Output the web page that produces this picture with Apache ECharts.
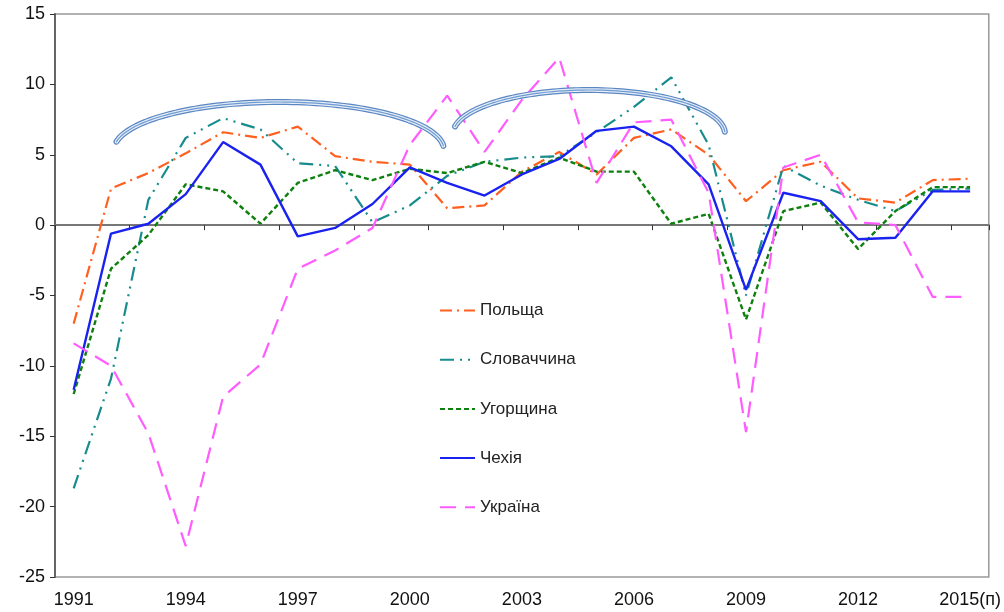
<!DOCTYPE html>
<html>
<head>
<meta charset="utf-8">
<script src="https://cdn.jsdelivr.net/npm/echarts@6/dist/echarts.min.js"></script>
<style>html,body{margin:0;padding:0;background:#fff;}#c{width:1004px;height:612px;}</style>
</head>
<body>
<div id="c"></div>
<script>
const years = ['1991','1992','1993','1994','1995','1996','1997','1998','1999','2000','2001','2002','2003','2004','2005','2006','2007','2008','2009','2010','2011','2012','2013','2014','2015(п)'];
const poland   = [-7.0, 2.6, 3.7, 5.1, 6.6, 6.2, 7.0, 4.9, 4.5, 4.3, 1.2, 1.4, 3.8, 5.2, 3.6, 6.2, 6.8, 5.0, 1.7, 3.9, 4.5, 1.9, 1.6, 3.2, 3.3];
const slovakia = [-18.7, -10.9, 1.8, 6.2, 7.6, 6.8, 4.4, 4.2, 0.2, 1.4, 3.5, 4.5, 4.8, 4.9, 6.6, 8.4, 10.5, 5.7, -5.0, 4.2, 2.8, 1.8, 1.0, 2.5, 2.6];
const hungary  = [-12.0, -3.1, -0.7, 2.9, 2.4, 0.1, 3.0, 3.9, 3.2, 4.0, 3.7, 4.5, 3.7, 4.8, 3.8, 3.8, 0.1, 0.8, -6.7, 1.0, 1.6, -1.7, 1.0, 2.7, 2.7];
const czech    = [-11.7, -0.6, 0.1, 2.2, 5.9, 4.3, -0.8, -0.2, 1.5, 4.1, 3.0, 2.1, 3.6, 4.7, 6.7, 7.0, 5.6, 2.9, -4.6, 2.3, 1.7, -1.0, -0.9, 2.4, 2.4];
const ukraine  = [-8.4, -10.0, -14.8, -22.8, -12.2, -9.9, -3.1, -1.8, -0.2, 5.7, 9.2, 5.2, 8.9, 11.9, 3.0, 7.3, 7.5, 2.3, -14.7, 4.1, 5.0, 0.2, 0.0, -5.1, -5.1];
const seriesNames = ['Польща', 'Словаччина', 'Угорщина', 'Чехія', 'Україна'];
const yTicks = { min: -25, max: 15, step: 5 };

function arcPts(cx, cy, rx, ry, a0, a1) {
  const pts = [];
  for (let i = 0; i <= 80; i++) {
    const t = (a0 + (a1 - a0) * i / 80) * Math.PI / 180;
    pts.push([cx + rx * Math.cos(t), cy - ry * Math.sin(t)]);
  }
  return pts;
}
function doubleArc(cx, cy, rx, ry, a0, a1) {
  const pts = arcPts(cx, cy, rx, ry, a0, a1);
  return [
    { type: 'polyline', shape: { points: pts }, style: { stroke: '#5a86c2', lineWidth: 6, fill: null, lineCap: 'round' }, z: 50 },
    { type: 'polyline', shape: { points: pts }, style: { stroke: '#e4edf8', lineWidth: 3.6, fill: null, lineCap: 'round' }, z: 51 },
    { type: 'polyline', shape: { points: pts }, style: { stroke: '#6f9ad0', lineWidth: 1.2, fill: null, lineCap: 'round' }, z: 52 }
  ];
}

const chart = echarts.init(document.getElementById('c'), null, { renderer: 'canvas' });
const font = 'Liberation Sans, Arial, sans-serif';
const styles = [
  { color: '#ff5f1f', type: [12, 5, 2, 5], width: 2.2 },
  { color: '#178c8c', type: [14, 6, 2, 6, 2, 6], width: 2.2 },
  { color: '#0d800d', type: [5, 3], width: 2.4 },
  { color: '#1a22f0', type: 'solid', width: 2.4 },
  { color: '#ff5cff', type: [16, 9], width: 2.2 }
];
const datas = [poland, slovakia, hungary, czech, ukraine];

chart.setOption({
  animation: false,
  backgroundColor: '#fff',
  grid: { left: 55, right: 15, top: 14, bottom: 35, show: true, borderColor: '#999', borderWidth: 1.5, containLabel: false },
  legend: {
    orient: 'vertical', left: 439, top: 302, padding: 0, itemWidth: 35, itemHeight: 17, itemGap: 32.2,
    itemStyle: { opacity: 0 },
    textStyle: { fontFamily: font, fontSize: 17, color: '#222' },
    data: seriesNames
  },
  xAxis: [
    { type: 'category', data: years, position: 'bottom', boundaryGap: true,
      axisLine: { show: false, onZero: false }, axisTick: { show: false },
      axisLabel: { interval: 2, fontFamily: font, fontSize: 18, color: '#111', margin: 14 } },
    { type: 'category', data: years, position: 'bottom', boundaryGap: true,
      axisLine: { show: true, onZero: true, onZeroAxisIndex: 0, lineStyle: { color: '#777', width: 2 } },
      axisTick: { show: true, length: 5, inside: false, lineStyle: { color: '#333', width: 1 } },
      axisLabel: { show: false } }
  ],
  yAxis: {
    type: 'value', min: yTicks.min, max: yTicks.max, interval: yTicks.step,
    axisLine: { show: true, lineStyle: { color: '#666', width: 2 } },
    axisTick: { show: true, length: 5, lineStyle: { color: '#333' } },
    splitLine: { show: false },
    axisLabel: { fontFamily: font, fontSize: 18, color: '#111', margin: 10 }
  },
  series: datas.map((d, i) => ({
    name: seriesNames[i], type: 'line', data: d, xAxisIndex: 0, symbol: 'none',
    lineStyle: styles[i], itemStyle: { color: styles[i].color }, z: 10 + i
  })),
  graphic: [].concat(
    doubleArc(279, 150, 165, 48, 170, 5),
    doubleArc(589, 134, 136, 44, 170, 3)
  )
});
</script>
</body>
</html>
